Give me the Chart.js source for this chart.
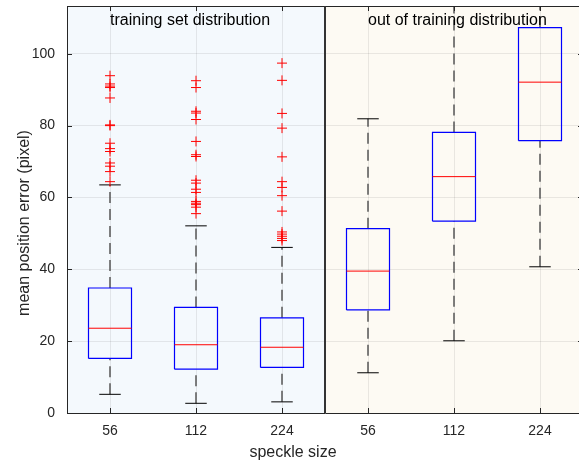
<!DOCTYPE html>
<html>
<head>
<meta charset="utf-8">
<script src="https://cdn.jsdelivr.net/npm/chart.js@4.4.1/dist/chart.umd.min.js"></script>
<style>
  html, body { margin: 0; padding: 0; background: #fff; overflow: hidden; }
  /* the axes run a few px past the window on the right, as in the original figure */
  #wrap { width: 589px; height: 465px; position: relative; }
</style>
</head>
<body>
<div id="wrap"><canvas id="boxChart"></canvas></div>
<script>
// speckle size per box, two groups of three
const categories = ["56", "112", "224", "56", "112", "224"];
const groupLabels = ["training set distribution", "out of training distribution"];
const yTicks = [0, 20, 40, 60, 80, 100];

const lowerWhisker = [5.2, 2.7, 3.1, 11.2, 20.1, 40.7];
const q1 = [15.2, 12.2, 12.7, 28.7, 53.4, 75.8];
const median = [23.6, 19.0, 18.3, 39.5, 65.8, 92.1];
const q3 = [34.8, 29.4, 26.5, 51.3, 78.1, 107.3];
const upperWhisker = [63.5, 52.1, 46.1, 81.9, 125, 135];

const outliers = [
    [93.9, 91.6, 91.0, 90.6, 87.7, 80.2, 80.0, 75.1, 73.6, 72.8, 69.6, 68.7, 67.2, 64.4],
    [92.5, 90.6, 84.0, 83.5, 81.7, 75.6, 71.9, 71.4, 64.8, 64.0, 62.3, 61.4, 58.9, 58.4, 58.0, 57.3, 55.5],
    [97.4, 92.6, 83.4, 79.3, 71.3, 64.4, 62.8, 60.5, 56.2, 50.4, 49.8, 49.2, 48.6, 48.0],
    [],
    [],
    []
];

document.addEventListener("DOMContentLoaded", () => {
    const BOX_W = 0.25;
    const CAP_W = 0.125;
    const axisColor = "#262626";
    const font = "'Liberation Sans', Arial, Helvetica, sans-serif";

    // flatten a list of segments into one dataset, null between them
    const segs = list => list.flatMap(s => [...s, { x: s[0].x, y: null }]);

    const whiskers = segs(categories.flatMap((c, i) => [
        [{ x: i, y: lowerWhisker[i] }, { x: i, y: q1[i] }],
        [{ x: i, y: q3[i] }, { x: i, y: upperWhisker[i] }]
    ]));
    const caps = segs(categories.flatMap((c, i) => [
        [{ x: i - CAP_W, y: lowerWhisker[i] }, { x: i + CAP_W, y: lowerWhisker[i] }],
        [{ x: i - CAP_W, y: upperWhisker[i] }, { x: i + CAP_W, y: upperWhisker[i] }]
    ]));
    const boxes = segs(categories.map((c, i) => [
        { x: i - BOX_W, y: q1[i] }, { x: i + BOX_W, y: q1[i] },
        { x: i + BOX_W, y: q3[i] }, { x: i - BOX_W, y: q3[i] },
        { x: i - BOX_W, y: q1[i] }
    ]));
    const medians = segs(categories.map((c, i) => [
        { x: i - BOX_W, y: median[i] }, { x: i + BOX_W, y: median[i] }
    ]));
    const outlierPts = outliers.flatMap((vals, i) => vals.map(v => ({ x: i, y: v })));

    const lineDs = (data, color, width, order, dash) => ({
        type: "line",
        data,
        borderColor: color,
        borderWidth: width,
        borderDash: dash || [],
        pointRadius: 0,
        showLine: true,
        spanGaps: false,
        tension: 0,
        fill: false,
        order
    });

    const frame = {
        id: "frame",
        beforeDraw(chart) {
            const { ctx, chartArea: a, scales: { x } } = chart;
            const mid = x.getPixelForValue(2.5);
            ctx.save();
            ctx.fillStyle = "#f4f9fd";
            ctx.fillRect(a.left, a.top, mid - a.left, a.bottom - a.top);
            ctx.fillStyle = "#fdfaf3";
            ctx.fillRect(mid, a.top, a.right - mid, a.bottom - a.top);
            ctx.restore();
        },
        afterDraw(chart) {
            const { ctx, chartArea: a, scales: { x, y } } = chart;
            ctx.save();
            ctx.strokeStyle = axisColor;
            ctx.lineWidth = 1;
            ctx.beginPath();
            // top and right border
            ctx.moveTo(a.left, a.top + 0.5);
            ctx.lineTo(a.right - 0.5, a.top + 0.5);
            ctx.lineTo(a.right - 0.5, a.bottom);
            // inside tick marks
            categories.forEach((c, i) => {
                const px = Math.round(x.getPixelForValue(i)) + 0.5;
                ctx.moveTo(px, a.bottom);
                ctx.lineTo(px, a.bottom - 5);
                ctx.moveTo(px, a.top);
                ctx.lineTo(px, a.top + 5);
            });
            yTicks.forEach(v => {
                const py = Math.round(y.getPixelForValue(v)) + 0.5;
                ctx.moveTo(a.left, py);
                ctx.lineTo(a.left + 5, py);
                ctx.moveTo(a.right, py);
                ctx.lineTo(a.right - 5, py);
            });
            ctx.stroke();

            // group divider
            const mid = Math.round(x.getPixelForValue(2.5));
            ctx.strokeStyle = "#333333";
            ctx.lineWidth = 2;
            ctx.beginPath();
            ctx.moveTo(mid, a.top);
            ctx.lineTo(mid, a.bottom);
            ctx.stroke();

            // group labels, left-aligned at the first box of each group
            ctx.fillStyle = "#000";
            ctx.font = "16px " + font;
            ctx.textAlign = "left";
            ctx.textBaseline = "alphabetic";
            groupLabels.forEach((t, g) => {
                ctx.fillText(t, x.getPixelForValue(g * 3), a.top + 19);
            });

            // axis titles
            ctx.fillStyle = axisColor;
            ctx.textAlign = "center";
            ctx.textBaseline = "middle";
            ctx.fillText("speckle size", 293, 453);
            ctx.translate(25, 223);
            ctx.rotate(-Math.PI / 2);
            ctx.fillText("mean position error (pixel)", 0, 0);
            ctx.restore();
        }
    };

    new Chart(document.getElementById("boxChart"), {
        type: "scatter",
        data: {
            datasets: [
                {
                    data: outlierPts,
                    pointStyle: "cross",
                    pointRadius: 5,
                    borderColor: "#ff0000",
                    borderWidth: 1,
                    order: 0
                },
                lineDs(medians, "#ff0000", 1, 1),
                lineDs(boxes, "#0000ff", 1.2, 2),
                lineDs(caps, "#000000", 1, 3),
                lineDs(whiskers, "#555555", 1.5, 4, [11, 6])
            ]
        },
        options: {
            responsive: true,
            maintainAspectRatio: false,
            animation: false,
            layout: { padding: { top: 5, right: 0, left: 0, bottom: 0 } },
            plugins: {
                legend: { display: false },
                tooltip: { enabled: false }
            },
            scales: {
                x: {
                    type: "linear",
                    min: -0.5,
                    max: 5.5,
                    afterBuildTicks: s => { s.ticks = categories.map((c, i) => ({ value: i })); },
                    afterFit: s => { s.height = 52; s.paddingLeft = 0; s.paddingRight = 0; },
                    ticks: {
                        callback: (v, i) => categories[i],
                        color: axisColor,
                        font: { family: font, size: 14 },
                        padding: 10,
                        maxRotation: 0
                    },
                    grid: { color: "rgba(38,38,38,0.09)", drawTicks: false },
                    border: { display: true, color: axisColor, width: 1 }
                },
                y: {
                    min: 0,
                    max: 113.3,
                    afterBuildTicks: s => { s.ticks = yTicks.map(v => ({ value: v })); },
                    afterFit: s => { s.width = 67; s.paddingTop = 0; s.paddingBottom = 0; },
                    ticks: {
                        color: axisColor,
                        font: { family: font, size: 14 },
                        padding: 12
                    },
                    grid: { color: "rgba(38,38,38,0.09)", drawTicks: false },
                    border: { display: true, color: axisColor, width: 1 }
                }
            }
        },
        plugins: [frame]
    });
});
</script>
</body>
</html>
